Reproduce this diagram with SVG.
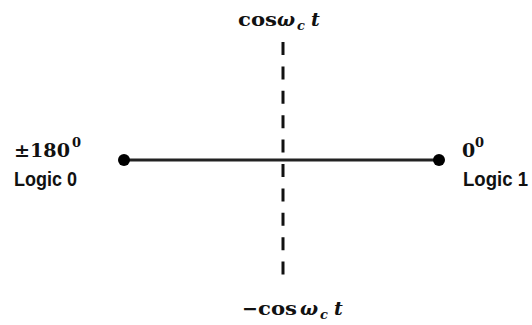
<svg xmlns="http://www.w3.org/2000/svg" width="532" height="325" viewBox="0 0 532 325">
<style>
.m{font-family:"DejaVu Serif","Liberation Serif",serif;font-weight:bold;fill:#111;font-size:19px}
.i{font-style:italic}
.sub{font-size:13px}
.sup{font-size:13px}
.lg{font-family:"Liberation Sans","DejaVu Sans",sans-serif;font-weight:bold;fill:#111;font-size:20px}
</style>
<rect width="532" height="325" fill="#fff"/>
<g id="connectors">
<line x1="283" y1="42" x2="283" y2="279" stroke="#111" stroke-width="3" stroke-dasharray="13 11.4"/>
<line x1="124" y1="160" x2="439" y2="160" stroke="#222" stroke-width="3"/>
</g>
<g id="node-left">
<circle cx="124" cy="160" r="6" fill="#000"/>
<text class="m" x="14" y="157" textLength="56" lengthAdjust="spacingAndGlyphs">±180</text>
<text class="m sup" x="72" y="147">0</text>
<text class="lg" x="14" y="186" textLength="63" lengthAdjust="spacingAndGlyphs">Logic 0</text>
</g>
<g id="node-right">
<circle cx="439" cy="160" r="6" fill="#000"/>
<text class="m" x="462" y="157">0</text>
<text class="m sup" x="475" y="147">0</text>
<text class="lg" x="463" y="186" textLength="65" lengthAdjust="spacingAndGlyphs">Logic 1</text>
</g>
<g id="node-top">
<text class="m" x="238" y="26" textLength="39" lengthAdjust="spacingAndGlyphs">cos</text>
<text class="m i" x="277" y="26">ω</text>
<text class="m i sub" x="297" y="30">c</text>
<text class="m i" x="311" y="26">t</text>
</g>
<g id="node-bottom">
<text class="m" x="242" y="315">−</text>
<text class="m" x="258" y="315" textLength="39" lengthAdjust="spacingAndGlyphs">cos</text>
<text class="m i" x="300" y="315">ω</text>
<text class="m i sub" x="320" y="319">c</text>
<text class="m i" x="334" y="315">t</text>
</g>
</svg>
